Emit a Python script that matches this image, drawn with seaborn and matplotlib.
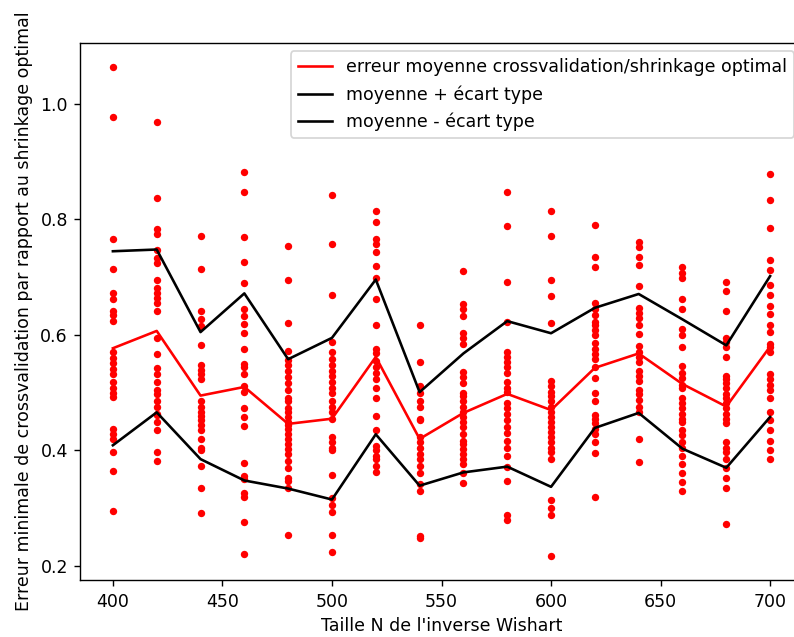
import matplotlib
matplotlib.use("Agg")
import matplotlib.pyplot as plt
import numpy as np
import pandas as pd
import seaborn as sns

# Taille N de l'inverse Wishart
n_values = [400, 420, 440, 460, 480, 500, 520, 540, 560, 580, 600, 620, 640, 660, 680, 700]

# Erreurs minimales de crossvalidation (une liste par taille N)
err_400 = [1.064, 0.978, 0.766, 0.714, 0.672, 0.663, 0.641, 0.634, 0.625, 0.570, 0.560, 0.551,
           0.541, 0.532, 0.518, 0.508, 0.500, 0.492, 0.438, 0.429, 0.420, 0.398, 0.365, 0.295]
err_420 = [0.968, 0.837, 0.784, 0.775, 0.748, 0.733, 0.725, 0.695, 0.682, 0.673, 0.664, 0.655,
           0.642, 0.595, 0.567, 0.542, 0.532, 0.518, 0.505, 0.497, 0.485, 0.476, 0.464, 0.461,
           0.449, 0.435, 0.397, 0.382]
err_440 = [0.772, 0.714, 0.642, 0.628, 0.616, 0.583, 0.548, 0.540, 0.532, 0.523, 0.485, 0.476,
           0.467, 0.460, 0.453, 0.444, 0.435, 0.420, 0.405, 0.400, 0.373, 0.335, 0.292]
err_460 = [0.882, 0.847, 0.770, 0.726, 0.690, 0.645, 0.632, 0.619, 0.603, 0.576, 0.550, 0.544,
           0.532, 0.511, 0.501, 0.473, 0.458, 0.443, 0.379, 0.355, 0.350, 0.326, 0.320, 0.276,
           0.220]
err_480 = [0.754, 0.695, 0.621, 0.573, 0.557, 0.548, 0.538, 0.528, 0.517, 0.505, 0.491, 0.485,
           0.473, 0.467, 0.458, 0.450, 0.444, 0.438, 0.429, 0.420, 0.411, 0.403, 0.394, 0.382,
           0.370, 0.352, 0.347, 0.335, 0.253]
err_500 = [0.842, 0.757, 0.669, 0.587, 0.570, 0.558, 0.548, 0.538, 0.529, 0.518, 0.508, 0.500,
           0.485, 0.476, 0.467, 0.455, 0.423, 0.414, 0.405, 0.400, 0.358, 0.317, 0.305, 0.294,
           0.253, 0.224]
err_520 = [0.814, 0.795, 0.767, 0.758, 0.744, 0.720, 0.698, 0.663, 0.617, 0.576, 0.569, 0.555,
           0.544, 0.535, 0.523, 0.508, 0.491, 0.460, 0.435, 0.408, 0.401, 0.391, 0.385, 0.373,
           0.363]
err_540 = [0.617, 0.554, 0.511, 0.500, 0.485, 0.476, 0.455, 0.453, 0.423, 0.414, 0.405, 0.394,
           0.385, 0.373, 0.361, 0.342, 0.329, 0.252, 0.248]
err_560 = [0.711, 0.653, 0.645, 0.632, 0.603, 0.594, 0.585, 0.536, 0.528, 0.517, 0.500, 0.494,
           0.485, 0.476, 0.467, 0.458, 0.450, 0.441, 0.429, 0.417, 0.411, 0.403, 0.394, 0.385,
           0.376, 0.361, 0.343]
err_580 = [0.848, 0.788, 0.692, 0.623, 0.571, 0.562, 0.554, 0.544, 0.535, 0.518, 0.508, 0.501,
           0.482, 0.473, 0.463, 0.453, 0.441, 0.430, 0.417, 0.405, 0.391, 0.371, 0.347, 0.288,
           0.279]
err_600 = [0.814, 0.772, 0.695, 0.667, 0.620, 0.520, 0.511, 0.502, 0.494, 0.485, 0.476, 0.467,
           0.458, 0.450, 0.441, 0.432, 0.423, 0.414, 0.405, 0.397, 0.385, 0.314, 0.300, 0.288,
           0.217]
err_620 = [0.790, 0.735, 0.718, 0.655, 0.645, 0.635, 0.623, 0.617, 0.608, 0.600, 0.586, 0.576,
           0.567, 0.558, 0.544, 0.526, 0.500, 0.485, 0.461, 0.455, 0.447, 0.438, 0.429, 0.414,
           0.395, 0.320]
err_640 = [0.761, 0.753, 0.735, 0.722, 0.685, 0.647, 0.638, 0.629, 0.617, 0.601, 0.581, 0.570,
           0.561, 0.553, 0.538, 0.529, 0.520, 0.505, 0.497, 0.488, 0.476, 0.467, 0.420, 0.380]
err_660 = [0.718, 0.708, 0.698, 0.663, 0.645, 0.611, 0.600, 0.579, 0.547, 0.535, 0.526, 0.514,
           0.508, 0.491, 0.482, 0.473, 0.464, 0.455, 0.450, 0.435, 0.426, 0.414, 0.405, 0.391,
           0.376, 0.361, 0.345, 0.330]
err_680 = [0.692, 0.677, 0.641, 0.594, 0.588, 0.579, 0.561, 0.529, 0.523, 0.517, 0.508, 0.497,
           0.491, 0.482, 0.473, 0.464, 0.455, 0.447, 0.414, 0.405, 0.397, 0.385, 0.370, 0.352,
           0.335, 0.273]
err_700 = [0.878, 0.834, 0.785, 0.729, 0.712, 0.686, 0.669, 0.651, 0.637, 0.617, 0.605, 0.585,
           0.579, 0.570, 0.532, 0.523, 0.514, 0.505, 0.491, 0.467, 0.453, 0.435, 0.417, 0.400,
           0.385]

# Erreur moyenne et écart type pour chaque N
mean_err = [0.577, 0.607, 0.495, 0.510, 0.446, 0.455, 0.562, 0.420, 0.465, 0.498,
            0.470, 0.543, 0.568, 0.515, 0.476, 0.580]
std_err = [0.168, 0.141, 0.110, 0.162, 0.112, 0.140, 0.134, 0.081, 0.103, 0.126,
           0.133, 0.104, 0.103, 0.112, 0.106, 0.122]

all_err = [err_400, err_420, err_440, err_460, err_480, err_500, err_520, err_540,
           err_560, err_580, err_600, err_620, err_640, err_660, err_680, err_700]

points = pd.DataFrame(
    [(n, e) for n, errs in zip(n_values, all_err) for e in errs],
    columns=["N", "erreur"],
)
stats = pd.DataFrame({"N": n_values, "moyenne": mean_err, "ecart": std_err})
stats["haut"] = stats["moyenne"] + stats["ecart"]
stats["bas"] = stats["moyenne"] - stats["ecart"]

plt.rcParams["font.family"] = ["DejaVu Sans"]
fig = plt.figure(figsize=(794 / 125, 637 / 125), dpi=125)
ax = fig.add_axes([0.1008, 0.0889, 0.9105, 0.8439])

sns.scatterplot(data=points, x="N", y="erreur", color="red", s=18, linewidth=0, ax=ax,
                legend=False)
sns.lineplot(data=stats, x="N", y="moyenne", color="red", linewidth=1.5, ax=ax,
             label="erreur moyenne crossvalidation/shrinkage optimal")
sns.lineplot(data=stats, x="N", y="haut", color="black", linewidth=1.5, ax=ax,
             label="moyenne + écart type")
sns.lineplot(data=stats, x="N", y="bas", color="black", linewidth=1.5, ax=ax,
             label="moyenne - écart type")

ax.set_xlim(385, 715)
ax.set_ylim(0.175, 1.106)
ax.set_yticks([0.2, 0.4, 0.6, 0.8, 1.0])
ax.set_xlabel("Taille N de l'inverse Wishart")
ax.set_ylabel("Erreur minimale de crossvalidation par rapport au shrinkage optimal")
ax.legend(loc="upper right")

fig.savefig("out.png", dpi=125)
